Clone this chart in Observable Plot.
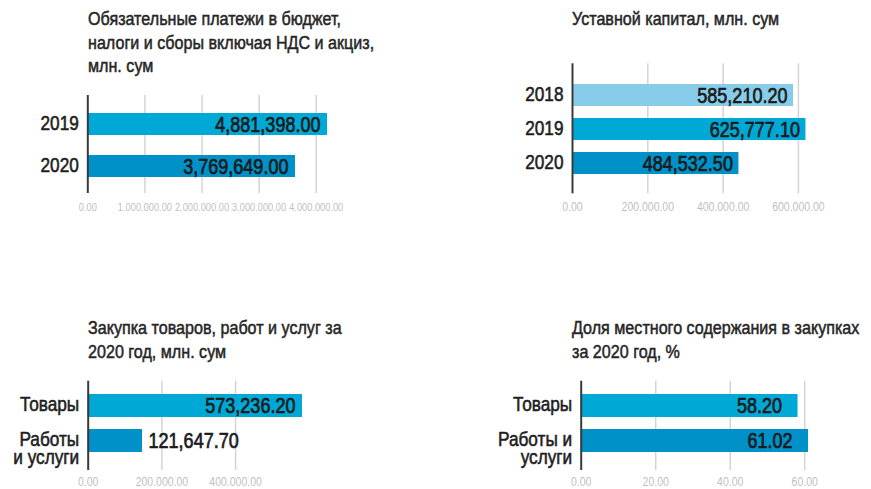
<!DOCTYPE html>
<html><head><meta charset="utf-8">
<script src="https://cdn.jsdelivr.net/npm/d3@7"></script>
<script src="https://cdn.jsdelivr.net/npm/@observablehq/plot@0.6"></script>
<style>
html,body{margin:0;padding:0;background:#fff;overflow:hidden}
#wrap{position:relative;width:871px;height:489px;overflow:hidden}
.title{position:absolute;font-family:"Liberation Sans",Arial,sans-serif;font-size:18px;line-height:23.5px;color:#262626;white-space:nowrap;transform:scaleX(0.895);transform-origin:0 0;-webkit-text-stroke:0.5px #262626}
.chart{position:absolute}
</style></head><body><div id="wrap"></div><script>
// ---- data ----
const paymentYears = ["2019", "2020"];
const paymentBars = [4198000, 3637000];           // bar lengths as drawn
const paymentLabels = ["4,881,398.00", "3,769,649.00"];
const paymentTicks = [0, 1000000, 2000000, 3000000, 4000000];
const paymentTickLabels = ["0.00", "1.000.000.00", "2.000.000.00", "3.000.000.00", "4.000.000.00"];

const capitalYears = ["2018", "2019", "2020"];
const capitalBars = [587000, 620000, 442000];
const capitalLabels = ["585,210.20", "625,777.10", "484,532.50"];
const capitalTicks = [0, 200000, 400000, 600000];
const capitalTickLabels = ["0.00", "200.000.00", "400.000.00", "600.000.00"];

const purchaseCats = ["Товары", "Работы\nи услуги"];
const purchaseBars = [581600, 147400];
const purchaseLabels = ["573,236.20", "121,647.70"];
const purchaseTicks = [0, 200000, 400000];
const purchaseTickLabels = ["0.00", "200.000.00", "400.000.00"];

const localCats = ["Товары", "Работы и\nуслуги"];
const localShares = [58.20, 61.02];
const localLabels = ["58.20", "61.02"];
const localTicks = [0, 20, 40, 60];
const localTickLabels = ["0.00", "20.00", "40.00", "60.00"];

const titles = [
  "Обязательные платежи в бюджет,\nналоги и сборы включая НДС и акциз,\nмлн. сум",
  "Уставной капитал, млн. сум",
  "Закупка товаров, работ и услуг за\n2020 год, млн. сум",
  "Доля местного содержания в закупках\nза 2020 год, %"
];

const LIGHT = "#87cde9", MID = "#00a8d6", DARK = "#0091c8";
const FONT = '"Liberation Sans",Arial,sans-serif';
const NARROW = 0.82;
const wrap = document.getElementById("wrap");

function addTitle(text, left, top) {
  const d = document.createElement("div");
  d.className = "title";
  d.style.left = left + "px";
  d.style.top = top + "px";
  d.innerHTML = text.split("\n").join("<br>");
  wrap.appendChild(d);
}

function panel(o) {
  const rows = o.cats.map((c, i) => ({cat: c, v: o.bars[i], label: o.labels[i]}));
  const sx = d3.scaleLinear().domain(o.xDomain).range([o.ml, o.width - o.mr]);
  const inside = rows.filter(r => sx(r.v) - sx(0) > 120);
  const outside = rows.filter(r => sx(r.v) - sx(0) <= 120);
  const plot = Plot.plot({
    width: o.width, height: o.height,
    marginTop: o.mt, marginBottom: o.mb, marginLeft: o.ml, marginRight: o.mr,
    x: {domain: o.xDomain, axis: null},
    y: {domain: o.cats, axis: null, paddingInner: o.pi, paddingOuter: o.po, align: o.align},
    color: {domain: o.cats, range: o.palette},
    style: {fontFamily: FONT, background: "transparent", overflow: "visible"},
    marks: [
      Plot.ruleX(o.ticks.slice(1), {stroke: "#d4d4d4", strokeWidth: 1.5}),
      Plot.barX(rows, {x: "v", y: "cat", fill: "cat"}),
      Plot.ruleX([0], {stroke: "#3a3a3a", strokeWidth: 2}),
      Plot.text(o.ticks, {x: d => d, text: (d, i) => o.tickLabels[i], frameAnchor: "bottom", lineAnchor: "top", dy: o.tickPad, fill: "#bfbfbf", fontSize: o.tickSize}),
      Plot.text(o.cats, {y: d => d, text: d => d, frameAnchor: "left", textAnchor: "end", dx: -9, lineAnchor: "top", dy: -7.5, lineHeight: 0.85, fontSize: 21, fill: "#1e1e1e", stroke: "#1e1e1e", strokeWidth: 0.6}),
      Plot.text(inside, {x: "v", y: "cat", text: "label", textAnchor: "end", dx: o.labelDx, fontSize: 22, fill: "#1a1a1a", stroke: "#1a1a1a", strokeWidth: 0.7}),
      Plot.text(outside, {x: "v", y: "cat", text: "label", textAnchor: "start", dx: 6, fontSize: 22, fill: "#1a1a1a", stroke: "#1a1a1a", strokeWidth: 0.7})
    ]
  });
  // narrow the glyphs (condensed face) around each text's own anchor point
  plot.querySelectorAll("text").forEach(t => {
    const tr = t.getAttribute("transform") || "";
    t.setAttribute("transform", tr + ` scale(${NARROW},1)`);
  });
  plot.classList.add("chart");
  plot.style.left = o.left + "px";
  plot.style.top = o.top + "px";
  wrap.appendChild(plot);
}

addTitle(titles[0], 88, 8);
addTitle(titles[1], 572, 8);
addTitle(titles[2], 88, 317);
addTitle(titles[3], 572, 317);

panel({left: 0, top: 90, width: 435, height: 130, mt: 5, mb: 27, ml: 87.3, mr: 5.1,
  xDomain: [0, 6000000], cats: paymentYears, bars: paymentBars, labels: paymentLabels,
  palette: [MID, DARK], ticks: paymentTicks, tickLabels: paymentTickLabels, tickPad: 9.7, tickSize: 11.3,
  pi: 0.47, po: 0.375, align: 0.53, labelDx: -7});

panel({left: 435, top: 50, width: 436, height: 170, mt: 13.3, mb: 26.7, ml: 137, mr: 16.6,
  xDomain: [0, 750000], cats: capitalYears, bars: capitalBars, labels: capitalLabels,
  palette: [LIGHT, MID, DARK], ticks: capitalTicks, tickLabels: capitalTickLabels, tickPad: 8.4, tickSize: 12.8,
  pi: 0.35, po: 0.54, align: 0.53, labelDx: -6});

panel({left: 0, top: 370, width: 435, height: 119, mt: 10.7, mb: 19, ml: 87.7, mr: 15.7,
  xDomain: [0, 900000], cats: purchaseCats, bars: purchaseBars, labels: purchaseLabels,
  palette: [MID, DARK], ticks: purchaseTicks, tickLabels: purchaseTickLabels, tickPad: 6, tickSize: 12.8,
  pi: 0.35, po: 0.45, align: 0.42, labelDx: -7});

panel({left: 435, top: 370, width: 436, height: 119, mt: 10.7, mb: 19, ml: 145.7, mr: 10.9,
  xDomain: [0, 75], cats: localCats, bars: localShares, labels: localLabels,
  palette: [MID, DARK], ticks: localTicks, tickLabels: localTickLabels, tickPad: 6, tickSize: 12.8,
  pi: 0.35, po: 0.45, align: 0.42, labelDx: -16});
</script></body></html>
